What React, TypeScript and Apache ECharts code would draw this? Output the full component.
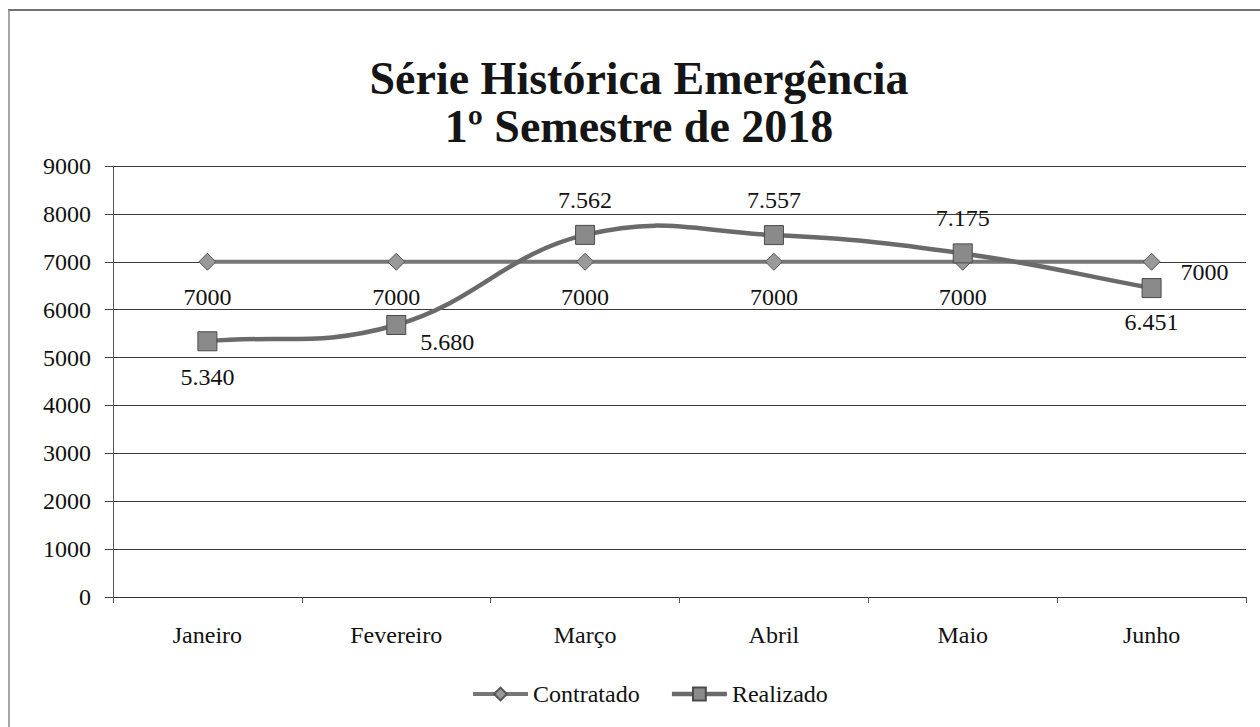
import React, { useEffect, useRef } from "react";
import * as echarts from "echarts";

const categories = ["Janeiro", "Fevereiro", "Março", "Abril", "Maio", "Junho"];
const contratado = [7000, 7000, 7000, 7000, 7000, 7000];
const realizado = [5340, 5680, 7562, 7557, 7175, 6451];
const yTicks = { min: 0, max: 9000, interval: 1000 };
const titleText = "Série Histórica Emergência\n1º Semestre de 2018";

const FONT = "Liberation Serif";
const TXT = "#111";
const REAL_LINE = "#6a6a6a";
const CONT_LINE = "#777";

function fmtPt(v: number): string {
  const th = Math.floor(v / 1000);
  const rest = String(v % 1000).padStart(3, "0");
  return th + "." + rest;
}

function contratadoLabel(i: number, n: number) {
  if (i === n - 1) {
    return { show: true, position: "right", distance: 20, offset: [0, 10] };
  }
  return { show: true, position: "bottom", distance: 14 };
}

function realizadoLabel(i: number, n: number) {
  if (i === 1) return { show: true, position: "right", distance: 14, offset: [0, 17] };
  if (i === 0) return { show: true, position: "bottom", distance: 14 };
  if (i === n - 1) return { show: true, position: "bottom", distance: 12 };
  return { show: true, position: "top", distance: 13 };
}

export default function App() {
  const ref = useRef<HTMLDivElement>(null);
  useEffect(() => {
    document.body.style.margin = "0";
    if (!ref.current) return;
    const chart = echarts.init(ref.current, null, { renderer: "svg" });
    const n = realizado.length;
    const K = 0.21;
    const option: any = {
      animation: false,
      backgroundColor: "#fff",
      textStyle: { fontFamily: FONT, color: TXT },
      title: {
        text: titleText,
        left: 634,
        textAlign: "center",
        top: 49,
        textStyle: {
          fontFamily: FONT,
          fontWeight: "bold",
          fontSize: 46,
          lineHeight: 48,
          color: "#151515",
        },
      },
      legend: {
        left: 466,
        top: 677,
        itemWidth: 55,
        itemHeight: 16,
        itemGap: 30,
        textStyle: { fontFamily: FONT, fontSize: 24, color: TXT },
        data: [
          { name: "Contratado", lineStyle: { color: CONT_LINE, width: 4 } },
          { name: "Realizado", lineStyle: { opacity: 1, color: REAL_LINE, width: 4.5 } },
        ],
      },
      grid: { left: 113, right: 14, top: 166, bottom: 130 },
      xAxis: {
        type: "category",
        data: categories,
        boundaryGap: true,
        axisLine: { lineStyle: { color: "#333", width: 1 } },
        axisTick: { show: true, length: 6, lineStyle: { color: "#555" } },
        axisLabel: { fontFamily: FONT, fontSize: 24, color: TXT, margin: 26 },
      },
      yAxis: {
        type: "value",
        min: yTicks.min,
        max: yTicks.max,
        interval: yTicks.interval,
        axisLine: { show: true, lineStyle: { color: "#555", width: 1 } },
        axisTick: { show: true, length: 8, lineStyle: { color: "#444" } },
        axisLabel: {
          fontFamily: FONT,
          fontSize: 24,
          color: TXT,
          margin: 22,
          formatter: (v: number) => String(v),
        },
        splitLine: { show: true, lineStyle: { color: "#3a3a3a", width: 1 } },
      },
      graphic: [
        { type: "line", shape: { x1: 8, y1: 10, x2: 1260, y2: 10 }, style: { stroke: "#444", lineWidth: 1.5 } },
        { type: "line", shape: { x1: 9, y1: 10, x2: 9, y2: 727 }, style: { stroke: "#888", lineWidth: 1.5 } },
      ],
      series: [
        {
          name: "Contratado",
          type: "line",
          data: contratado.map((v, i) => ({ value: v, label: contratadoLabel(i, contratado.length) })),
          symbol: "diamond",
          symbolSize: 17,
          lineStyle: { color: CONT_LINE, width: 4 },
          itemStyle: { color: "#999", borderColor: "#555", borderWidth: 1 },
          label: { fontFamily: FONT, fontSize: 24, color: TXT, formatter: (p: any) => String(p.value) },
          z: 2,
        },
        {
          name: "RealizadoCurva",
          type: "custom",
          data: realizado.map((v, i) => [i, v]),
          encode: { x: 0, y: 1 },
          z: 3,
          silent: true,
          renderItem: (params: any, api: any) => {
            const i = params.dataIndex;
            if (i >= n - 1) return null;
            const pt = (k: number) => api.coord([k, realizado[k]]);
            const p1 = pt(i), p2 = pt(i + 1);
            const p0 = i - 1 >= 0 ? pt(i - 1) : [2 * p1[0] - p2[0], 2 * p1[1] - p2[1]];
            const p3 = i + 2 <= n - 1 ? pt(i + 2) : [2 * p2[0] - p1[0], 2 * p2[1] - p1[1]];
            return {
              type: "bezierCurve",
              shape: {
                x1: p1[0], y1: p1[1],
                cpx1: p1[0] + (p2[0] - p0[0]) * K,
                cpy1: p1[1] + (p2[1] - p0[1]) * K,
                cpx2: p2[0] - (p3[0] - p1[0]) * K,
                cpy2: p2[1] - (p3[1] - p1[1]) * K,
                x2: p2[0], y2: p2[1],
              },
              style: { stroke: REAL_LINE, lineWidth: 4.5, fill: "none", lineCap: "round" },
            };
          },
        },
        {
          name: "Realizado",
          type: "line",
          data: realizado.map((v, i) => ({ value: v, label: realizadoLabel(i, n) })),
          symbol: "rect",
          symbolSize: 19,
          lineStyle: { color: REAL_LINE, width: 4.5, opacity: 0 },
          itemStyle: { color: "#8a8a8a", borderColor: "#4a4a4a", borderWidth: 1 },
          label: { fontFamily: FONT, fontSize: 24, color: TXT, formatter: (p: any) => fmtPt(p.value) },
          z: 4,
        },
      ],
    };
    chart.setOption(option);
    return () => chart.dispose();
  }, []);
  return <div ref={ref} style={{ width: 1260, height: 727 }} />;
}
